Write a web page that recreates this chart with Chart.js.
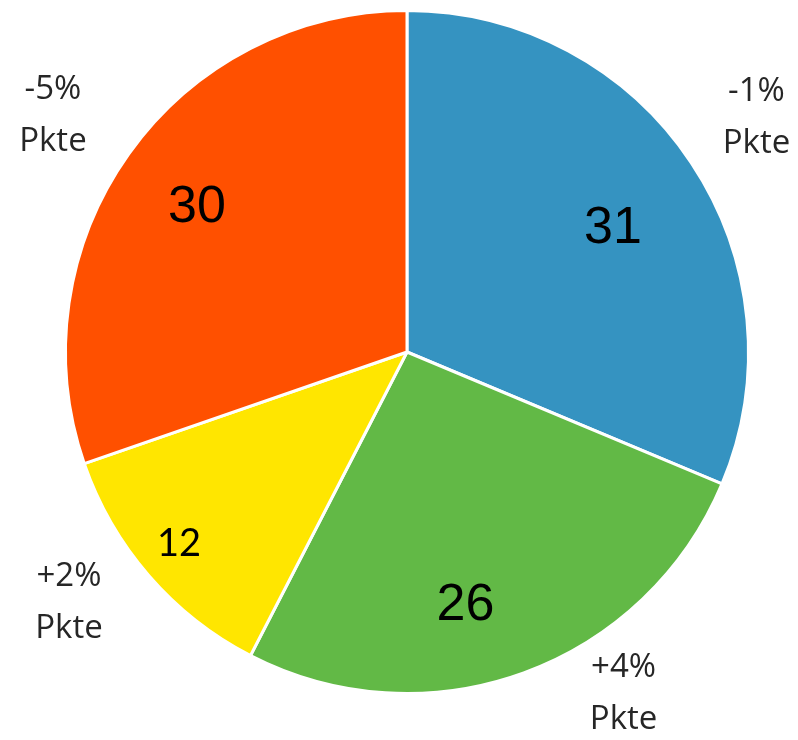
<!DOCTYPE html>
<html>
<head>
<meta charset="utf-8">
<script src="https://cdn.jsdelivr.net/npm/chart.js@4"></script>
<style>
html,body{margin:0;padding:0;background:#fff;}
#wrap{width:798px;height:740px;position:relative;}
</style>
</head>
<body>
<div id="wrap"><canvas id="c"></canvas></div>
<script>
const categories = ["A", "B", "C", "D"];
const values = [31, 26, 12, 30];
const changeLabels = ["-1%", "+4%", "+2%", "-5%"];
const unitLabel = "Pkte";
const colors = ["#3593c1", "#62b946", "#ffe600", "#ff5000"];

// label placement styles (fraction of radius, angle offset in degrees)
const innerPlace = [{r:0.71,a:1.8},{r:0.75,a:6.8},{r:0.87,a:1},{r:0.753,a:-0.2}];
const innerFont = [{f:"52px 'Liberation Sans'",h:37},{f:"52px 'Liberation Sans'",h:37},{f:"38px Lato",h:27},{f:"52px 'Liberation Sans'",h:37}];
const outerPlace = [{r:1.235,a:-0.4},{r:1.18,a:-12.5},{r:1.23,a:4.5},{r:1.25,a:-1.5}];

const labelPlugin = {
  id: 'labels',
  afterDatasetsDraw(chart) {
    const ctx = chart.ctx;
    const meta = chart.getDatasetMeta(0);
    meta.data.forEach((arc, i) => {
      const {x, y, startAngle, endAngle, outerRadius} = arc.getProps(['x','y','startAngle','endAngle','outerRadius'], true);
      const mid = (startAngle + endAngle) / 2;
      ctx.save();
      ctx.textAlign = 'center';
      ctx.textBaseline = 'alphabetic';
      // inner value
      let a = mid + innerPlace[i].a * Math.PI / 180;
      let r = outerRadius * innerPlace[i].r;
      ctx.fillStyle = '#000';
      ctx.font = innerFont[i].f;
      ctx.fillText(String(values[i]), x + r * Math.cos(a), y + r * Math.sin(a) + innerFont[i].h / 2);
      // outer change label
      a = mid + outerPlace[i].a * Math.PI / 180;
      r = outerRadius * outerPlace[i].r;
      const ox = x + r * Math.cos(a), oy = y + r * Math.sin(a);
      ctx.fillStyle = '#262626';
      ctx.font = "33px 'Open Sans'";
      ctx.fillText(changeLabels[i], ox, oy - 15);
      ctx.fillText(unitLabel, ox, oy + 37);
      ctx.restore();
    });
  }
};

new Chart(document.getElementById('c'), {
  type: 'pie',
  data: {
    labels: categories,
    datasets: [{
      data: values,
      backgroundColor: colors,
      borderColor: '#ffffff',
      borderWidth: 3
    }]
  },
  options: {
    responsive: true,
    maintainAspectRatio: false,
    animation: false,
    layout: { padding: { left: 64, right: 48, top: 9, bottom: 45 } },
    plugins: { legend: { display: false }, tooltip: { enabled: false } }
  },
  plugins: [labelPlugin]
});
</script>
</body>
</html>
